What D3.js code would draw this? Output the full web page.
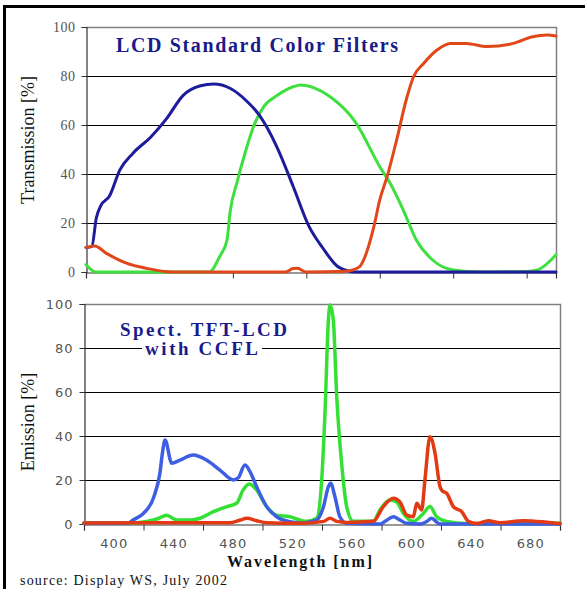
<!DOCTYPE html>
<html>
<head>
<meta charset="utf-8">
<script src="https://cdn.jsdelivr.net/npm/d3@7"></script>
<style>
  body { margin: 0; background: #fff; }
  svg { display: block; }
  .grid line { stroke: #000; stroke-width: 1; }
  .axis path, .axis line { stroke: #333; }
</style>
</head>
<body>
<div id="chart"></div>
<script>
// filter transmission [nm, %]
const filterBlue = [[380,10],[384,10.5],[387,22],[390,27],[396,31],[403,41.6],[412,48.5],[424,55],[435,62.7],[446,72],[458,76],[467,76.7],[478,75],[489,70],[498,64],[510,51],[521,35],[532,18.4],[541,10],[552,2],[564,0],[600,0],[650,0],[700,0]];
const filterGreen = [[380,3],[387,0],[420,0],[464,0],[471,6.3],[476,13],[478,24],[483,37],[489,50],[494,59.3],[501,67.5],[510,72],[521,75.6],[526,76.3],[546,71.6],[564,60.7],[580,43],[587,36.3],[596,25.3],[605,13],[616,4.9],[630,0.8],[648,0],[680,0.2],[688,1],[700,7]];
const filterRed = [[380,10],[386,10.6],[394,7.6],[408,3.5],[421,1.5],[439,0],[516,0],[521,1.4],[524,1.5],[530,0],[557,0.3],[566,2],[569,4.9],[576,18.5],[580,29.4],[585,38.9],[591.5,53.9],[598,70.2],[603,79.7],[610,85.2],[619,90.6],[628,93.3],[639,93.3],[653,92],[671,93.3],[684,96],[694,96.7],[700,96.3]];

// CCFL emission through filters [nm, %]
const emitBlue = [[380,0.3],[410,0.5],[413,1.8],[420,4.8],[427,12.4],[431,23],[433,33.6],[434.5,38.2],[439,27.6],[444.5,29],[453.5,31.4],[462.5,29],[471.4,24.5],[480.4,20],[483.7,21],[488.2,26.8],[491.6,23.8],[496,17],[502.8,7.9],[509.5,3.3],[518.5,1],[525,0.5],[536.4,1.8],[541,7.9],[544.3,17],[545.8,18.5],[548.7,12.4],[552,3.3],[556.6,0.3],[579,0],[583,1.5],[588,3.3],[592,2],[597,0.3],[606,0],[610,1],[613.7,2.6],[617,1],[619,0],[700,0]];
const emitGreen = [[380,0.5],[415,0.5],[422,1.2],[430,2.5],[435.6,4],[442.3,1.8],[451.3,1.8],[458,2.6],[467,5.6],[476,7.9],[482.6,9.4],[487,15.5],[491,18.2],[496,15.5],[502.8,7.9],[509.5,4],[518.5,3.3],[525,1.8],[529.7,1.2],[536.4,2.6],[539.8,20],[542,50.3],[544.3,92.7],[545.4,99.5],[547.6,92.7],[549.9,57.9],[553.2,27.6],[556.6,7.9],[561,1.2],[574.5,1.2],[579,6.4],[585.7,10.9],[590.2,10],[594.7,4.8],[601.4,1.2],[608.1,4.8],[612.6,7.9],[617.1,3.3],[623.8,1.2],[637.3,0.2],[700,0.3]];
const emitRed = [[380,0.5],[478,0.6],[485,1.8],[489.4,2.6],[496,1.5],[502.8,0.6],[525,0.3],[541,1.2],[545.4,2.6],[550,1.2],[556.6,0.7],[574.5,1.2],[581.2,7.9],[588,11.7],[592.4,10],[597,4],[601.4,3.3],[603.7,9.4],[607,6.4],[609.2,20],[612.6,39.7],[616,32.1],[619.3,17],[621,15],[623.8,14],[628.3,7.9],[633.9,5.6],[638.4,1.2],[644,0.2],[651.8,1.5],[659.7,0.6],[675.3,1.5],[691,0.8],[700,0.2]];

const yTicks = [0, 20, 40, 60, 80, 100];
const topXTicks = [480, 530, 580, 630, 680];
const bottomXMarks = [380, 420, 460, 500, 540, 580, 620, 660, 700];
const bottomXLabels = [400, 440, 480, 520, 560, 600, 640, 680];

const W = 585, H = 589;
const svg = d3.select("#chart").append("svg")
    .attr("width", W).attr("height", H);

// outer frame (left + top only)
svg.append("path")
    .attr("d", `M4.5,${H} L4.5,6.5 L${W},6.5`)
    .attr("fill", "none").attr("stroke", "#000").attr("stroke-width", 3);

function panel(opt) {
    const x = d3.scaleLinear().domain([380, 700]).range(opt.xr);
    const y = d3.scaleLinear().domain([0, 100]).range(opt.yr);
    const g = svg.append("g");

    // gridlines
    g.append("g").attr("class", "grid")
        .selectAll("line").data([20, 40, 60, 80]).join("line")
        .attr("x1", opt.xr[0]).attr("x2", opt.xr[1])
        .attr("y1", d => y(d) + 0.5).attr("y2", d => y(d) + 0.5);

    // top and right border
    g.append("path")
        .attr("d", `M${opt.xr[0]},${y(100) + 0.5} L${opt.xr[1] + 0.5},${y(100) + 0.5} L${opt.xr[1] + 0.5},${y(0)}`)
        .attr("fill", "none").attr("stroke", "#808080").attr("stroke-width", 1.5);

    // y axis
    const ya = g.append("g").attr("class", "axis")
        .attr("transform", `translate(${opt.xr[0] + 0.5},0)`)
        .call(d3.axisLeft(y).tickValues(yTicks).tickSize(5).tickPadding(6));
    ya.selectAll("text")
        .attr("font-family", opt.tickFont).attr("font-size", opt.tickSize)
        .attr("letter-spacing", opt.tickSpacing)
        .attr("fill", "#555");
    ya.select(".domain").attr("stroke", "#333").attr("stroke-width", 1.2);

    // x axis line
    const xa = g.append("g").attr("class", "axis")
        .attr("transform", `translate(0,${y(0) + 0.5})`)
        .call(d3.axisBottom(x).tickValues(opt.xMarks).tickSize(6).tickFormat(""));
    xa.select(".domain").attr("stroke", "#333").attr("stroke-width", 1.2);

    if (opt.xLabels) {
        const xl = g.append("g")
            .attr("transform", `translate(0,${y(0) + 0.5})`)
            .call(d3.axisBottom(x).tickValues(opt.xLabels).tickSize(0).tickPadding(14));
        xl.select(".domain").remove();
        xl.selectAll("text")
            .attr("font-family", opt.tickFont).attr("font-size", opt.tickSize)
            .attr("letter-spacing", opt.tickSpacing)
            .attr("fill", "#555");
    }

    const line = d3.line()
        .x(d => x(d[0])).y(d => y(d[1]))
        .curve(opt.curve);

    opt.series.forEach(s => {
        g.append("path").datum(s.data)
            .attr("d", line)
            .attr("fill", "none")
            .attr("stroke", s.color)
            .attr("stroke-width", opt.lineWidth)
            .attr("stroke-linejoin", "round")
            .attr("stroke-linecap", "round");
    });
    return { x, y, g };
}

const filterPanel = panel({
    xr: [86, 556], yr: [272, 27],
    tickFont: "Liberation Serif", tickSize: 14, tickSpacing: 0.5,
    xMarks: topXTicks,
    curve: d3.curveMonotoneX,
    lineWidth: 3,
    series: [
        { data: filterGreen, color: "#3ee03e" },
        { data: filterBlue, color: "#1c1c9c" },
        { data: filterRed, color: "#e0481a" }
    ]
});

const emitPanel = panel({
    xr: [84, 560], yr: [524, 304],
    tickFont: "DejaVu Sans", tickSize: 13, tickSpacing: 1,
    xMarks: bottomXMarks, xLabels: bottomXLabels,
    curve: d3.curveMonotoneX,
    lineWidth: 3.5,
    series: [
        { data: emitGreen, color: "#33e033" },
        { data: emitBlue, color: "#3d5fe0" },
        { data: emitRed, color: "#e23a12" }
    ]
});

const navy = "#1a1a8a";
const serif = "Liberation Serif";

svg.append("text")
    .attr("x", 116).attr("y", 52)
    .attr("font-family", serif).attr("font-weight", "bold").attr("font-size", 20)
    .attr("textLength", 282).attr("lengthAdjust", "spacing")
    .attr("fill", navy).text("LCD Standard Color Filters");

svg.append("rect")
    .attr("x", 142).attr("y", 340).attr("width", 120).attr("height", 18)
    .attr("fill", "#fff");
svg.append("text")
    .attr("x", 120).attr("y", 336)
    .attr("font-family", serif).attr("font-weight", "bold").attr("font-size", 19)
    .attr("textLength", 167).attr("lengthAdjust", "spacing")
    .attr("fill", navy).text("Spect. TFT-LCD");
svg.append("text")
    .attr("x", 145).attr("y", 355)
    .attr("font-family", serif).attr("font-weight", "bold").attr("font-size", 19)
    .attr("textLength", 113).attr("lengthAdjust", "spacing")
    .attr("fill", navy).text("with CCFL");

svg.append("text")
    .attr("transform", "translate(34,140) rotate(-90)")
    .attr("text-anchor", "middle")
    .attr("font-family", serif).attr("font-size", 18)
    .attr("fill", "#111").text("Transmission [%]");

svg.append("text")
    .attr("transform", "translate(34,422) rotate(-90)")
    .attr("text-anchor", "middle")
    .attr("font-family", serif).attr("font-size", 18)
    .attr("fill", "#111").text("Emission [%]");

svg.append("text")
    .attr("x", 227).attr("y", 567)
    .attr("font-family", serif).attr("font-weight", "bold").attr("font-size", 16)
    .attr("textLength", 145).attr("lengthAdjust", "spacing")
    .attr("fill", "#111").text("Wavelength [nm]");

svg.append("text")
    .attr("x", 20).attr("y", 585)
    .attr("font-family", serif).attr("font-size", 14)
    .attr("textLength", 207).attr("lengthAdjust", "spacing")
    .attr("fill", "#111").text("source: Display WS, July 2002");
</script>
</body>
</html>
